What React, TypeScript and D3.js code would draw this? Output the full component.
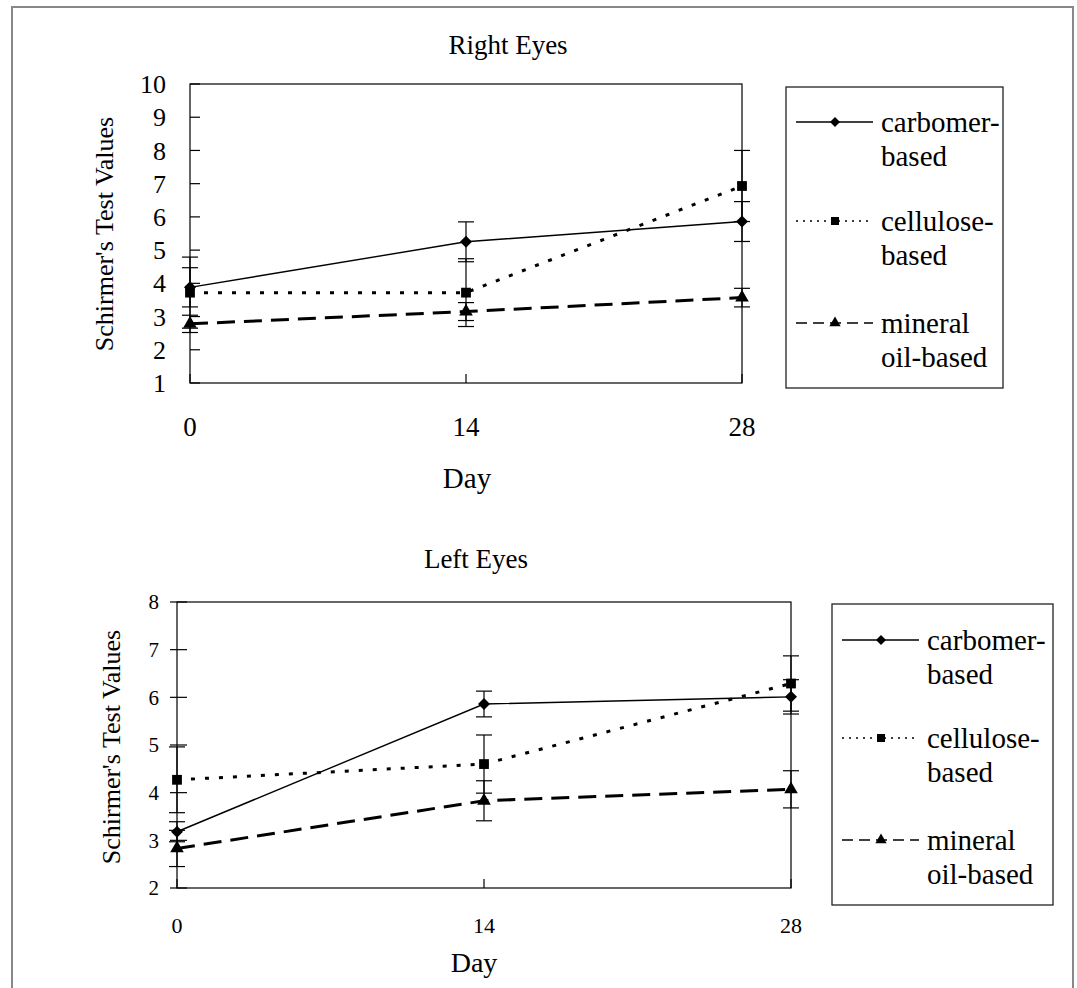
import * as d3 from "d3";

// days on the x axis
const days = [0, 14, 28];
const dayLabels = ["0", "14", "28"];
const legendLabels = [
  ["carbomer-", "based"],
  ["cellulose-", "based"],
  ["mineral", "oil-based"],
];

// Right eyes: means and error (+/-)
const rightCarbomer = [3.88, 5.25, 5.86];
const rightCarbomerErr = [0.59, 0.6, 0.6];
const rightCellulose = [3.72, 3.72, 6.93];
const rightCelluloseErr = [1.07, 1.02, 1.07];
const rightMineral = [2.78, 3.15, 3.57];
const rightMineralErr = [0.26, 0.27, 0.28];
const rightTicks = [1, 2, 3, 4, 5, 6, 7, 8, 9, 10];

// Left eyes
const leftCarbomer = [3.18, 5.86, 6.01];
const leftCarbomerErr = [0.21, 0.27, 0.36];
const leftCellulose = [4.27, 4.6, 6.29];
const leftCelluloseErr = [0.69, 0.61, 0.58];
const leftMineral = [2.83, 3.83, 4.07];
const leftMineralErr = [0.38, 0.42, 0.39];
const leftTicks = [2, 3, 4, 5, 6, 7, 8];

const FONT = "'Liberation Serif', 'Times New Roman', serif";

const styles = [
  { dash: null, width: 1.4, legendDash: null, legendWidth: 1.3, marker: "diamond" },
  { dash: "4,10", width: 3, legendDash: "2,5", legendWidth: 1.5, marker: "square" },
  { dash: "18,9", width: 3, legendDash: "11,6", legendWidth: 1.5, marker: "triangle" },
];

const markerPath = (kind, small = false) => {
  if (kind === "diamond") return d3.symbol(d3.symbolSquare, small ? 50 : 72)();
  if (kind === "square") return d3.symbol(d3.symbolSquare, small ? 64 : 96)();
  return d3.symbol(d3.symbolTriangle, small ? 55 : 80)();
};

const Marker = ({ kind, x, y, small = false }) => (
  <path
    d={markerPath(kind, small)}
    transform={`translate(${x},${y})${kind === "diamond" ? " rotate(45)" : ""}`}
    fill="#000"
  />
);

const Panel = ({ cfg, series }) => {
  const x = d3.scaleLinear().domain([0, 28]).range([cfg.left, cfg.right]);
  const y = d3.scaleLinear().domain(cfg.yDomain).range([cfg.bottom, cfg.top]);
  const line = d3
    .line<number>()
    .x((_, i) => x(days[i]))
    .y((d) => y(d));
  const capW = 8;

  return (
    <g>
      <text x={cfg.titleX} y={cfg.titleY} fontSize={27} textAnchor="middle" fontFamily={FONT}>
        {cfg.title}
      </text>
      <rect
        x={cfg.left}
        y={cfg.top}
        width={cfg.right - cfg.left}
        height={cfg.bottom - cfg.top}
        fill="none"
        stroke="#000"
        strokeWidth={1.2}
      />
      {cfg.yTicks.map((t) => (
        <g key={t}>
          <line x1={cfg.left - cfg.tickOut} x2={cfg.left + 10} y1={y(t)} y2={y(t)} stroke="#000" strokeWidth={1.2} />
          <text
            x={cfg.yLabelRight}
            y={y(t)}
            dy="0.35em"
            textAnchor="end"
            fontSize={cfg.yTickSize}
            fontFamily={FONT}
          >
            {t}
          </text>
        </g>
      ))}
      {days.map((d, i) => (
        <g key={d}>
          <line x1={x(d)} x2={x(d)} y1={cfg.bottom} y2={cfg.bottom - 9} stroke="#000" strokeWidth={1.2} />
          <text
            x={x(d)}
            y={cfg.xLabelY}
            dy="0.35em"
            textAnchor="middle"
            fontSize={cfg.xTickSize}
            fontFamily={FONT}
          >
            {dayLabels[i]}
          </text>
        </g>
      ))}
      <text
        x={cfg.dayX}
        y={cfg.dayY}
        dy="0.35em"
        textAnchor="middle"
        fontSize={cfg.daySize}
        fontFamily={FONT}
      >
        Day
      </text>
      <text
        transform={`translate(${cfg.yTitleX},${cfg.yTitleY}) rotate(-90)`}
        dy="0.35em"
        textAnchor="middle"
        fontSize={26}
        fontFamily={FONT}
      >
        Schirmer's Test Values
      </text>

      {series.map((s, si) => (
        <path
          key={"l" + si}
          d={line(s.values)}
          fill="none"
          stroke="#000"
          strokeWidth={styles[si].width}
          strokeDasharray={styles[si].dash || undefined}
        />
      ))}
      {series.map((s, si) =>
        s.values.map((v, i) => {
          const cx = x(days[i]);
          const hi = y(v + s.err[i]);
          const lo = y(v - s.err[i]);
          return (
            <g key={"e" + si + i} stroke="#000" strokeWidth={1.2}>
              <line x1={cx} x2={cx} y1={hi} y2={lo} />
              <line x1={cx - capW} x2={cx + capW} y1={hi} y2={hi} />
              <line x1={cx - capW} x2={cx + capW} y1={lo} y2={lo} />
            </g>
          );
        })
      )}
      {series.map((s, si) =>
        s.values.map((v, i) => (
          <Marker key={"m" + si + i} kind={styles[si].marker} x={x(days[i])} y={y(v)} />
        ))
      )}

      <rect
        x={cfg.legX}
        y={cfg.legY}
        width={cfg.legW}
        height={cfg.legH}
        fill="none"
        stroke="#222"
        strokeWidth={1.3}
      />
      {legendLabels.map((lab, i) => {
        const ry = cfg.legY + cfg.legRows[i];
        return (
          <g key={"lg" + i}>
            <line
              x1={cfg.legX + 10}
              x2={cfg.legX + 87}
              y1={ry}
              y2={ry}
              stroke="#000"
              strokeWidth={styles[i].legendWidth}
              strokeDasharray={styles[i].legendDash || undefined}
            />
            <Marker kind={styles[i].marker} x={cfg.legX + 49} y={ry} small />
            <text x={cfg.legX + 95} y={ry + 10} fontSize={29} fontFamily={FONT}>
              {lab[0]}
            </text>
            <text x={cfg.legX + 95} y={ry + 44} fontSize={29} fontFamily={FONT}>
              {lab[1]}
            </text>
          </g>
        );
      })}
    </g>
  );
};

const rightCfg = {
  title: "Right Eyes",
  titleX: 508,
  titleY: 54,
  left: 190,
  right: 742,
  top: 84,
  bottom: 383,
  yDomain: [1, 10],
  yTicks: rightTicks,
  tickOut: 0,
  yLabelRight: 166,
  yTickSize: 26,
  xLabelY: 427,
  xTickSize: 27,
  dayX: 467,
  dayY: 478,
  daySize: 29,
  yTitleX: 104,
  yTitleY: 234,
  legX: 786,
  legY: 87,
  legW: 217,
  legH: 301,
  legRows: [35, 134, 236],
};

const leftCfg = {
  title: "Left Eyes",
  titleX: 476,
  titleY: 568,
  left: 177,
  right: 791,
  top: 602,
  bottom: 888,
  yDomain: [2, 8],
  yTicks: leftTicks,
  tickOut: 7,
  yLabelRight: 159,
  yTickSize: 21,
  xLabelY: 925,
  xTickSize: 22,
  dayX: 474,
  dayY: 962,
  daySize: 28,
  yTitleX: 111,
  yTitleY: 747,
  legX: 832,
  legY: 604,
  legW: 221,
  legH: 301,
  legRows: [36, 134, 236],
};

export default function App() {
  const rightSeries = [
    { values: rightCarbomer, err: rightCarbomerErr },
    { values: rightCellulose, err: rightCelluloseErr },
    { values: rightMineral, err: rightMineralErr },
  ];
  const leftSeries = [
    { values: leftCarbomer, err: leftCarbomerErr },
    { values: leftCellulose, err: leftCelluloseErr },
    { values: leftMineral, err: leftMineralErr },
  ];
  return (
    <svg
      width={1077}
      height={988}
      style={{ position: "absolute", left: 0, top: 0, background: "#fff" }}
    >
      <rect x={0} y={0} width={1077} height={988} fill="#fff" />
      <rect x={12} y={7} width={1061} height={1000} fill="none" stroke="#888" strokeWidth={2} />
      <Panel cfg={rightCfg} series={rightSeries} />
      <Panel cfg={leftCfg} series={leftSeries} />
    </svg>
  );
}
